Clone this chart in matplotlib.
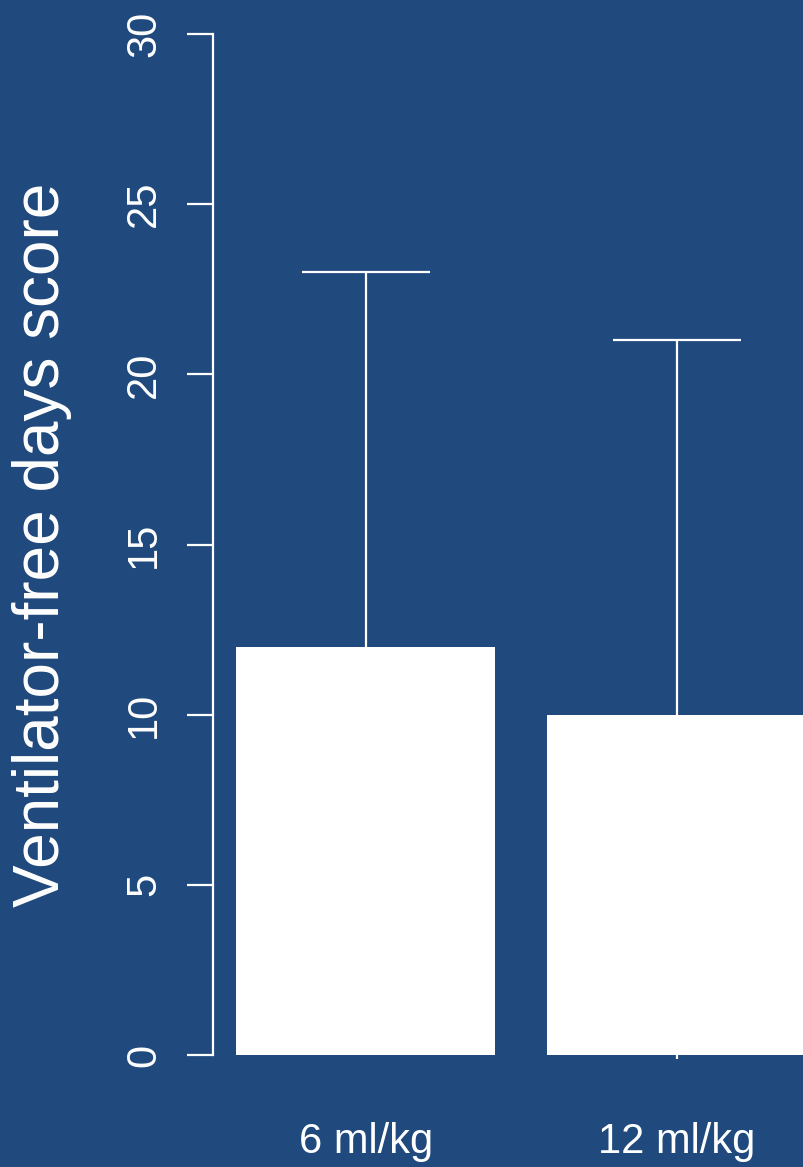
import matplotlib
matplotlib.use("Agg")
import matplotlib.pyplot as plt

# Ventilator-free days by tidal volume group
groups = ["6 ml/kg", "12 ml/kg"]
means = [12, 10]
err_low = [1.0, -0.12]
err_high = [23, 21]
yticks = [0, 5, 10, 15, 20, 25, 30]

bg = "#204A7D"
fg = "white"

plt.rcParams["font.family"] = ["Liberation Sans", "DejaVu Sans"]

W, H = 804, 1167
fig = plt.figure(figsize=(W / 100, H / 100), dpi=100, facecolor=bg)

# plot region in pixels (R-style barplot: width 1, space 0.2)
xlim = (0.112, 2.488)
ylim = (-1.2, 31.2)
left_px, right_px = 213.5, 829.0
y0_px, y30_px = 1055.0, 34.0
ppu = (y0_px - y30_px) / 30.0
bottom_px = y0_px + (0 - ylim[0]) * ppu
top_px = y0_px - (ylim[1] - 0) * ppu
ax = fig.add_axes([left_px / W, 1 - bottom_px / H,
                   (right_px - left_px) / W, (bottom_px - top_px) / H])
ax.set_facecolor(bg)
ax.set_xlim(*xlim)
ax.set_ylim(*ylim)

centers = [0.7 + 1.2 * i for i in range(len(groups))]
cap_half = 0.247

for c, lo, hi in zip(centers, err_low, err_high):
    ax.plot([c, c], [lo, hi], color=fg, lw=1.6, zorder=1, solid_capstyle="butt")
    ax.plot([c - cap_half, c + cap_half], [hi, hi], color=fg, lw=1.6, zorder=1,
            solid_capstyle="butt")

ax.bar(centers, means, width=1.0, color=fg, edgecolor="none", zorder=2)

for s in ["top", "right", "bottom"]:
    ax.spines[s].set_visible(False)
ax.spines["left"].set_color(fg)
ax.spines["left"].set_linewidth(1.6)
ax.spines["left"].set_bounds(0, 30)

ax.set_yticks(yticks)
ax.set_yticklabels([str(t) for t in yticks], rotation=90, va="center",
                   fontsize=30, color=fg)
ax.tick_params(axis="y", length=18.5, width=1.6, color=fg, pad=17)
ax.set_xticks([])

fig.text(42 / W, 1 - 545 / H, "Ventilator-free days score", rotation=90,
         fontsize=46, color=fg, ha="center", va="center")

# group labels under the bars, placed in pixel space
for c, g in zip(centers, groups):
    xp = left_px + (c - xlim[0]) * (right_px - left_px) / (xlim[1] - xlim[0])
    fig.text(xp / W, 1 - 1142 / H, g, fontsize=30, color=fg,
             ha="center", va="center")

fig.savefig("out.png", dpi=100, facecolor=bg)
